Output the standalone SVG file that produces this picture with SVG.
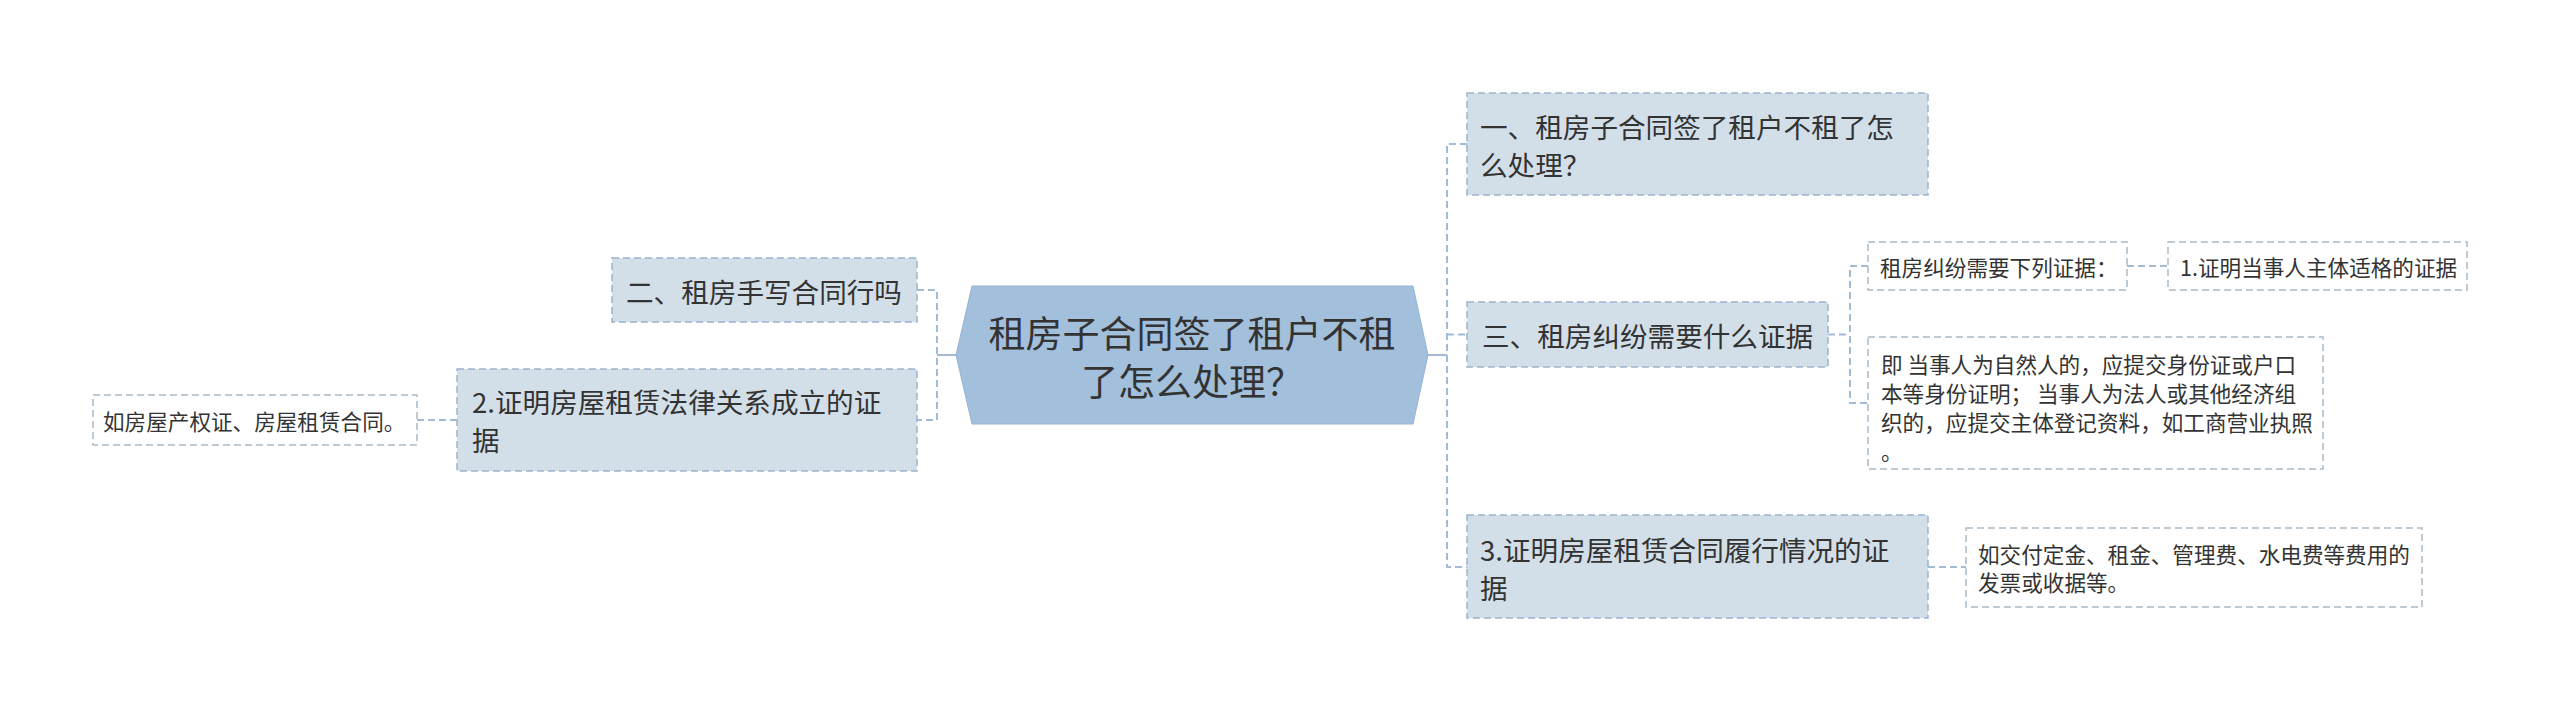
<svg xmlns="http://www.w3.org/2000/svg" width="2560" height="711" viewBox="0 0 2560 711">
<style>
text{font-family:"Noto Sans CJK SC","Noto Sans",sans-serif;fill:#333;dominant-baseline:central}
.root{font-size:37px}
.l1{font-size:27.6px}
.l2{font-size:21.6px}
.b1{fill:#d3dfe8;stroke:#9cb4cb;stroke-width:1.5;stroke-dasharray:7 4}
.b2{fill:#fff;stroke:#a9b9c6;stroke-width:1.5;stroke-dasharray:7 4}
.c{fill:none;stroke:#a3bcd5;stroke-width:2;stroke-dasharray:7 4}
.cs{fill:none;stroke:#a3bcd5;stroke-width:2}
</style>
<rect width="2560" height="711" fill="#fff"/>
<g id="connectors">
<path class="cs" d="M937 355H956"/>
<path class="c" d="M917 290H937V420H917"/>
<path class="cs" d="M1428 355H1447"/>
<path class="c" d="M1467 144H1447V567H1467M1447 334.5H1467"/>
<path class="c" d="M1828 334.5H1850M1868 266H1850V403H1868"/>
<path class="c" d="M2127 266H2168"/>
<path class="c" d="M1928 567H1966"/>
<path class="c" d="M417 420H457"/>
</g>
<g id="root">
<polygon points="972,286 1413,286 1428,355 1413,424 972,424 956,355" fill="#a2bfdb" stroke="#96b4d2" stroke-width="1"/>
<text class="root" text-anchor="middle"><tspan x="1192" y="332">租房子合同签了租户不租</tspan><tspan x="1192" y="380">了怎么处理？</tspan></text>
</g>
<g id="n-left1">
<rect class="b1" x="612" y="258" width="305" height="64"/>
<text class="l1" x="626" y="291">二、租房手写合同行吗</text>
</g>
<g id="n-left2">
<rect class="b1" x="457" y="369" width="460" height="102"/>
<text class="l1"><tspan x="472" y="401">2.证明房屋租赁法律关系成立的证</tspan><tspan x="472" y="439">据</tspan></text>
</g>
<g id="n-left2-leaf">
<rect class="b2" x="93" y="395" width="324" height="50"/>
<text class="l2" x="103" y="420">如房屋产权证、房屋租赁合同。</text>
</g>
<g id="n-r1">
<rect class="b1" x="1467" y="93" width="461" height="102"/>
<text class="l1"><tspan x="1480" y="126">一、租房子合同签了租户不租了怎</tspan><tspan x="1480" y="164">么处理？</tspan></text>
</g>
<g id="n-r3">
<rect class="b1" x="1467" y="302" width="361" height="65"/>
<text class="l1" x="1482" y="335">三、租房纠纷需要什么证据</text>
</g>
<g id="n-r3a">
<rect class="b2" x="1868" y="242" width="259" height="48"/>
<text class="l2" x="1880" y="266">租房纠纷需要下列证据：</text>
</g>
<g id="n-r3a1">
<rect class="b2" x="2168" y="242" width="299" height="48"/>
<text class="l2" x="2180" y="266">1.证明当事人主体适格的证据</text>
</g>
<g id="n-r3b">
<rect class="b2" x="1868" y="337" width="455" height="132"/>
<text class="l2"><tspan x="1881" y="363">即 当事人为自然人的，应提交身份证或户口</tspan><tspan x="1881" y="392">本等身份证明； 当事人为法人或其他经济组</tspan><tspan x="1881" y="421">织的，应提交主体登记资料，如工商营业执照</tspan><tspan x="1881" y="450">。</tspan></text>
</g>
<g id="n-r4">
<rect class="b1" x="1467" y="515" width="461" height="103"/>
<text class="l1"><tspan x="1480" y="549">3.证明房屋租赁合同履行情况的证</tspan><tspan x="1480" y="587">据</tspan></text>
</g>
<g id="n-r4-leaf">
<rect class="b2" x="1966" y="528" width="456" height="79"/>
<text class="l2"><tspan x="1978" y="553">如交付定金、租金、管理费、水电费等费用的</tspan><tspan x="1978" y="581">发票或收据等。</tspan></text>
</g>
</svg>
